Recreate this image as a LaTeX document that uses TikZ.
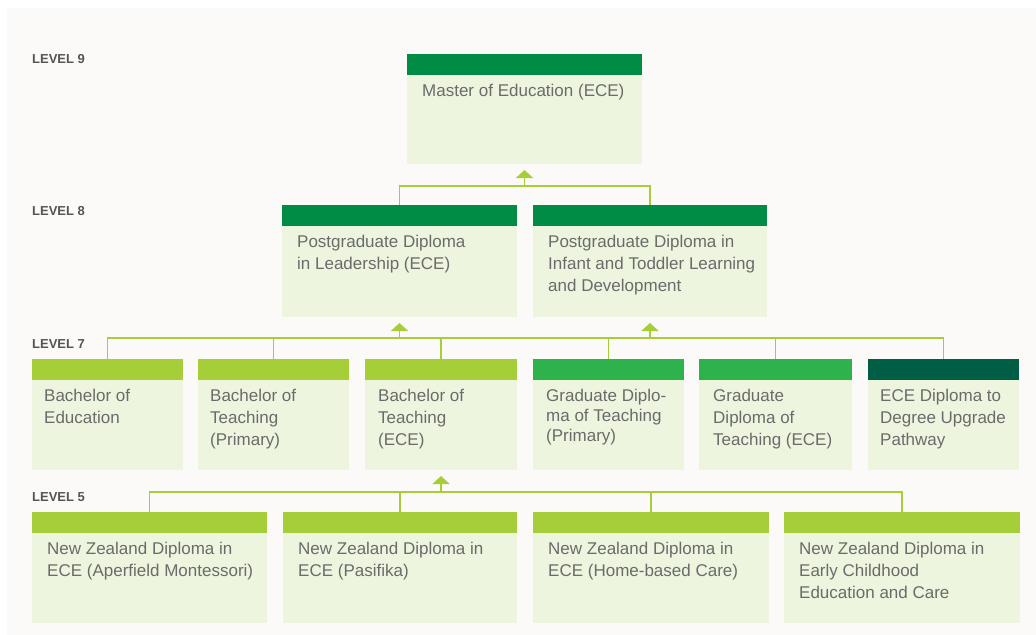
\documentclass[tikz,border=0pt]{standalone}
\usepackage{fontspec}
\setmainfont{Liberation Sans}
\usetikzlibrary{arrows.meta,positioning}

\definecolor{paper}{HTML}{FBFAF8}
\definecolor{cardbg}{HTML}{EDF5DF}
\definecolor{deepgreen}{HTML}{008C45}
\definecolor{limegreen}{HTML}{A6CE39}
\definecolor{midgreen}{HTML}{2EB24B}
\definecolor{darkteal}{HTML}{005E45}
\definecolor{txtgray}{HTML}{6B6B6B}
\definecolor{lvlgray}{HTML}{555555}

\tikzset{
  hdr/.style={fill=#1, minimum height=21bp, inner sep=0pt, outer sep=0pt},
  card/.style={fill=cardbg, inner sep=0pt, outer sep=0pt},
  txt/.style={text=txtgray, inner sep=0pt, align=left,
    font=\fontsize{17bp}{22bp}\selectfont},
  lvl/.style={text=lvlgray, inner sep=0pt, font=\fontsize{13bp}{15bp}\selectfont\bfseries},
  link/.style={draw=limegreen, line width=1.8bp},
  arr/.style={link, -{Triangle[width=17bp,length=8bp]}, shorten >=6bp}
}

% name, x, y, width, body height, header colour, text inset, text
\newcommand{\qualbox}[8]{%
  \node[hdr=#6, minimum width=#4bp, anchor=north west] (#1_h) at (#2,#3) {};
  \node[card, minimum width=#4bp, minimum height=#5bp, anchor=north west] (#1) at (#1_h.south west) {};
  \node[txt, anchor=north west] (#1_t) at ([xshift=#7bp,yshift=-6bp]#1.north west) {\strut #8};
}

\begin{document}
\begin{tikzpicture}[x=1bp,y=-1bp]
  \useasboundingbox (0,0) rectangle (1036,635);
  \fill[paper] (7,8) rectangle (1036,635);

  % level labels
  \node[lvl, anchor=base west] (lvl9) at (32,64) {LEVEL 9};
  \node[lvl, anchor=base west] (lvl8) at (32,216) {LEVEL 8};
  \node[lvl, anchor=base west] (lvl7) at (32,348) {LEVEL 7};
  \node[lvl, anchor=base west] (lvl5) at (32,501) {LEVEL 5};

  % level 9
  \qualbox{m_ed}{407}{54}{235}{89}{deepgreen}{15}{Master of Education (ECE)}

  % level 8
  \qualbox{pg_lead}{282}{205}{235}{91}{deepgreen}{15}{Postgraduate Diploma\\in Leadership (ECE)}
  \qualbox{pg_inf}{533}{205}{234}{91}{deepgreen}{15}{Postgraduate Diploma in\\Infant and Toddler Learning\\and Development}

  % level 7
  \qualbox{b_ed}{32}{359}{151}{90}{limegreen}{12}{Bachelor of\\Education}
  \qualbox{b_tp}{198}{359}{151}{90}{limegreen}{12}{Bachelor of\\Teaching\\(Primary)}
  \qualbox{b_te}{365}{359}{152}{90}{limegreen}{13}{Bachelor of\\Teaching\\(ECE)}
  \qualbox{gd_tp}{533}{359}{151}{90}{midgreen}{13}{Graduate Diplo-\\[-2bp]ma of Teaching\\[-2bp](Primary)}
  \qualbox{gd_te}{699}{359}{153}{90}{midgreen}{14}{Graduate\\Diploma of\\Teaching (ECE)}
  \qualbox{ece_up}{868}{359}{151}{90}{darkteal}{12}{ECE Diploma to\\Degree Upgrade\\Pathway}

  % level 5
  \qualbox{nz_am}{32}{512}{235}{90}{limegreen}{15}{New Zealand Diploma in\\ECE (Aperfield Montessori)}
  \qualbox{nz_pa}{283}{512}{234}{90}{limegreen}{15}{New Zealand Diploma in\\ECE (Pasifika)}
  \qualbox{nz_hb}{533}{512}{236}{90}{limegreen}{15}{New Zealand Diploma in\\ECE (Home-based Care)}
  \qualbox{nz_ec}{784}{512}{236}{90}{limegreen}{15}{New Zealand Diploma in\\Early Childhood\\Education and Care}

  % busses
  \coordinate (bus8) at (0,186);
  \coordinate (bus7) at (0,338);
  \coordinate (bus5) at (0,492);

  % level 8 -> level 9
  \draw[link] (pg_lead_h.north) -- (pg_lead_h.north |- bus8) -- (pg_inf_h.north |- bus8) -- (pg_inf_h.north);
  \draw[arr] (m_ed.south |- bus8) -- (m_ed.south);

  % level 7 -> level 8
  \draw[link] (b_ed_h.north) -- (b_ed_h.north |- bus7) -- (ece_up_h.north |- bus7) -- (ece_up_h.north);
  \foreach \q in {b_tp,b_te,gd_tp,gd_te}
    \draw[link] (\q_h.north) -- (\q_h.north |- bus7);
  \draw[arr] (pg_lead.south |- bus7) -- (pg_lead.south);
  \draw[arr] (pg_inf.south |- bus7) -- (pg_inf.south);

  % level 5 -> level 7
  \draw[link] (nz_am_h.north) -- (nz_am_h.north |- bus5) -- (nz_ec_h.north |- bus5) -- (nz_ec_h.north);
  \foreach \q in {nz_pa,nz_hb}
    \draw[link] (\q_h.north) -- (\q_h.north |- bus5);
  \draw[arr] (b_te.south |- bus5) -- (b_te.south);
\end{tikzpicture}
\end{document}
